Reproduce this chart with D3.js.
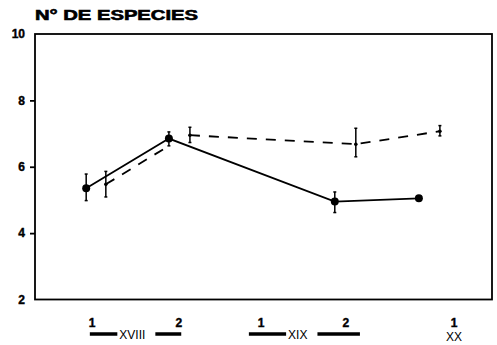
<!DOCTYPE html>
<html>
<head>
<meta charset="utf-8">
<script src="https://cdn.jsdelivr.net/npm/d3@7"></script>
<style>
	html, body { margin: 0; padding: 0; background: #fff; }
	svg { display: block; font-family: "Liberation Sans", Arial, sans-serif; }
</style>
</head>
<body>
<div id="chart"></div>
<script>
// y axis
const yTicks = [2, 4, 6, 8, 10];

// x positions in "period" units (0..10 across the frame)
const periodTicks = [1.25, 3.15, 4.95, 6.8, 9.17];
const periodLabels = ["1", "2", "1", "2", "1"];

const centuries = ["XVIII", "XIX", "XX"];
const centuryFrom = [1.2, 4.68, null];
const centuryTo = [3.2, 7.11, null];
const centuryLabelX = [2.13, 5.75, 9.17];

// solid series
const solidX = [1.12, 2.93, 6.56, 8.4];
const solidY = [5.35, 6.85, 4.95, 5.05];
const solidLo = [4.98, 6.63, 4.62, 4.98];
const solidHi = [5.78, 7.05, 5.24, 5.12];

// dashed series (two drawn pieces)
const dashedX = [1.55, 2.93, 3.39, 7.02, 8.86];
const dashedY = [5.47, 6.63, 6.95, 6.68, 7.07];
const dashedLo = [5.09, null, 6.73, 6.3, 6.93];
const dashedHi = [5.86, null, 7.19, 7.16, 7.24];
const dashedPiece = [0, 0, 1, 1, 1];

const width = 497, height = 345;
const frame = { left: 35, right: 492, top: 34, bottom: 299.5 };

const svg = d3.select("#chart").append("svg")
	.attr("width", width)
	.attr("height", height);

const x = d3.scaleLinear().domain([0, 10]).range([frame.left, frame.right]);
const y = d3.scaleLinear().domain([2, 10]).range([frame.bottom, frame.top]);

// title (wide, heavy lettering in the original)
svg.append("text")
	.attr("x", 35)
	.attr("y", 20)
	.attr("font-size", 14)
	.attr("font-weight", "bold")
	.attr("stroke", "#000")
	.attr("stroke-width", 0.6)
	.attr("textLength", 163)
	.attr("lengthAdjust", "spacingAndGlyphs")
	.text("N° DE ESPECIES");

// frame
svg.append("rect")
	.attr("x", frame.left)
	.attr("y", frame.top)
	.attr("width", frame.right - frame.left)
	.attr("height", frame.bottom - frame.top)
	.attr("fill", "none")
	.attr("stroke", "#000")
	.attr("stroke-width", 1.8);

// y axis
const yAxis = svg.append("g")
	.attr("transform", `translate(${frame.left},0)`)
	.call(d3.axisLeft(y).tickValues(yTicks).tickSize(5).tickPadding(5).tickFormat(d3.format("d")));
yAxis.select(".domain").remove();
yAxis.selectAll(".tick line").attr("stroke-width", 1.8)
	.attr("display", d => (d === 2 || d === 10) ? "none" : null);
yAxis.selectAll(".tick text")
	.attr("font-size", 12)
	.attr("font-weight", "bold")
	.attr("font-family", "Liberation Sans, Arial, sans-serif")
	.attr("fill", "#000")
	.attr("stroke", "#000")
	.attr("stroke-width", 0.4);

// x labels: period numbers
svg.append("g").selectAll("text")
	.data(periodTicks)
	.join("text")
	.attr("x", d => x(d))
	.attr("y", 327)
	.attr("text-anchor", "middle")
	.attr("font-size", 12)
	.attr("font-weight", "bold")
	.attr("stroke", "#000")
	.attr("stroke-width", 0.4)
	.text((d, i) => periodLabels[i]);

// century bars + labels
const cent = svg.append("g");
centuries.forEach((c, i) => {
	const hasBar = centuryFrom[i] !== null;
	if (hasBar) {
		cent.append("line")
			.attr("x1", x(centuryFrom[i]))
			.attr("x2", x(centuryTo[i]))
			.attr("y1", 334)
			.attr("y2", 334)
			.attr("stroke", "#000")
			.attr("stroke-width", 3.5);
	}
	const t = cent.append("text")
		.attr("x", x(centuryLabelX[i]))
		.attr("y", hasBar ? 338.5 : 341)
		.attr("text-anchor", "middle")
		.attr("font-size", 12)
		.attr("fill", "#000")
		.text(c);
	if (hasBar) {
		const bb = t.node().getBBox();
		cent.insert("rect", () => t.node())
			.attr("x", bb.x - 2)
			.attr("y", 330)
			.attr("width", bb.width + 12)
			.attr("height", 8)
			.attr("fill", "#fff");
	}
});

// solid series
const solid = solidX.map((d, i) => ({ x: d, y: solidY[i], lo: solidLo[i], hi: solidHi[i] }));
const line = d3.line().x(d => x(d.x)).y(d => y(d.y));

svg.append("path")
	.datum(solid)
	.attr("d", line)
	.attr("fill", "none")
	.attr("stroke", "#000")
	.attr("stroke-width", 1.8);

// dashed series
const dashed = dashedX.map((d, i) => ({ x: d, y: dashedY[i], lo: dashedLo[i], hi: dashedHi[i], piece: dashedPiece[i] }));
d3.groups(dashed, d => d.piece).forEach(([, pts]) => {
	svg.append("path")
		.datum(pts)
		.attr("d", line)
		.attr("fill", "none")
		.attr("stroke", "#000")
		.attr("stroke-width", 1.8)
		.attr("stroke-dasharray", "10,9");
});

// error bars
function errorBars(data) {
	const g = svg.append("g");
	const withErr = data.filter(d => d.lo !== null);
	g.selectAll(".eb")
		.data(withErr)
		.join("line")
		.attr("x1", d => x(d.x)).attr("x2", d => x(d.x))
		.attr("y1", d => y(d.lo)).attr("y2", d => y(d.hi))
		.attr("stroke", "#000")
		.attr("stroke-width", 1.5);
	["lo", "hi"].forEach(k => {
		g.selectAll(".cap-" + k)
			.data(withErr)
			.join("line")
			.attr("x1", d => x(d.x) - 1.5).attr("x2", d => x(d.x) + 1.5)
			.attr("y1", d => y(d[k])).attr("y2", d => y(d[k]))
			.attr("stroke", "#000")
			.attr("stroke-width", 1.5);
	});
}
errorBars(solid);
errorBars(dashed);

// markers
svg.append("g").selectAll("circle")
	.data(solid)
	.join("circle")
	.attr("cx", d => x(d.x))
	.attr("cy", d => y(d.y))
	.attr("r", 4)
	.attr("fill", "#000");

svg.append("g").selectAll("circle")
	.data(dashed.filter(d => d.lo !== null))
	.join("circle")
	.attr("cx", d => x(d.x))
	.attr("cy", d => y(d.y))
	.attr("r", 1.8)
	.attr("fill", "#000");
</script>
</body>
</html>
